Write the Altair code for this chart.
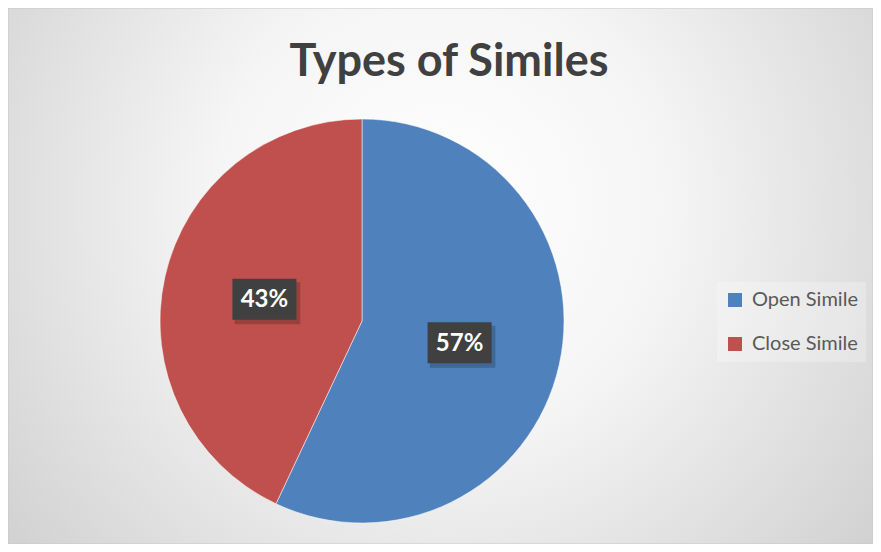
import altair as alt
import pandas as pd

categories = ["Open Simile", "Close Simile"]
values = [57, 43]
orders = [1, 2]
colors = ["#4f81bd", "#c0504d"]
title_text = "Types of Similes"

W, H = 865, 536
CX, CY, R, LR = 354, 313, 202, 100

df = pd.DataFrame({"category": categories, "value": values, "order": orders})
bg = pd.DataFrame({"k": [0]})

gradient = {
    "gradient": "radial",
    "x1": 0.5, "y1": 0.42, "r1": 0.0,
    "x2": 0.5, "y2": 0.42, "r2": 0.75,
    "stops": [
        {"offset": 0.0, "color": "#ffffff"},
        {"offset": 0.35, "color": "#f5f5f5"},
        {"offset": 1.0, "color": "#c6c6c6"},
    ],
}

background = alt.Chart(bg).mark_rect(fill=gradient, stroke="#c8c8c8", strokeWidth=1).encode(
    x=alt.value(0), x2=alt.value(W), y=alt.value(0), y2=alt.value(H)
)

title = alt.Chart(bg).mark_text(
    text=title_text, font="Lato", fontWeight="bold", fontSize=45,
    color="#404040", baseline="alphabetic", align="center",
).encode(x=alt.value(441), y=alt.value(68))

base = alt.Chart(df)

pie = base.mark_arc(radius=R, stroke="#ffffff", strokeWidth=1, strokeOpacity=0.5).encode(
    theta=alt.Theta("value:Q", stack=True),
    order=alt.Order("order:Q"),
    color=alt.Color(
        "category:N",
        scale=alt.Scale(domain=categories, range=colors),
        legend=alt.Legend(
            title=None, orient="none", legendX=709, legendY=274,
            symbolType="square", symbolSize=196, symbolStrokeWidth=0,
            labelFont="Lato", labelFontSize=20, labelColor="#595959",
            labelOffset=7, rowPadding=24, padding=8,
            fillColor="rgba(255,255,255,0.25)",
        ),
    ),
    x=alt.value(CX), y=alt.value(CY),
)

lab = base.transform_joinaggregate(total="sum(value)").transform_window(
    cum="sum(value)", sort=[alt.SortField("order")]
).transform_calculate(
    mid="(datum.cum - datum.value/2) / datum.total * 2 * PI",
    lx=f"{CX} + {LR} * sin(datum.mid)",
    ly=f"{CY} - {LR} * cos(datum.mid)",
    pct="format(datum.value / datum.total, '.0%')",
)

box_path = "M-1,-0.64L1,-0.64L1,0.64L-1,0.64Z"

shadow = lab.mark_point(
    shape=box_path, size=4300, filled=True, color="#000000", opacity=0.2,
    xOffset=3, yOffset=4,
).encode(x=alt.X("lx:Q", scale=None), y=alt.Y("ly:Q", scale=None))

boxes = lab.mark_point(
    shape=box_path, size=4096, filled=True, color="#404040", opacity=1,
).encode(x=alt.X("lx:Q", scale=None), y=alt.Y("ly:Q", scale=None))

labels = lab.mark_text(
    font="Lato", fontWeight="bold", fontSize=24, color="#ffffff",
    align="center", baseline="middle", dy=1,
).encode(x=alt.X("lx:Q", scale=None), y=alt.Y("ly:Q", scale=None), text="pct:N")

chart = alt.layer(background, title, pie, shadow, boxes, labels).properties(
    width=W, height=H, padding=0, autosize=alt.AutoSizeParams(type="none")
).configure_view(stroke=None)

chart.save("out.html", embed_options={"renderer": "svg", "actions": False})
